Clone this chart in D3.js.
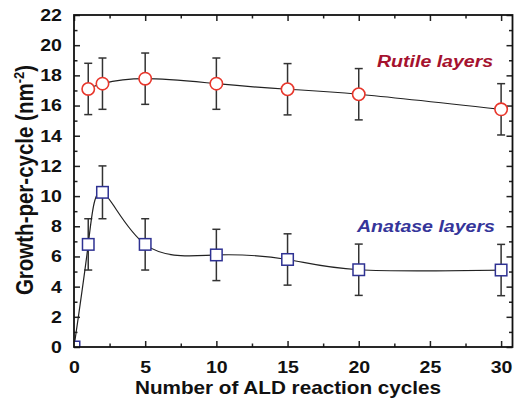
<!DOCTYPE html>
<html>
<head>
<meta charset="utf-8">
<script src="https://cdn.jsdelivr.net/npm/d3@7"></script>
<style>
  html, body { margin: 0; padding: 0; background: #fff; }
  svg { display: block; font-family: "Liberation Sans", Arial, Helvetica, sans-serif; }
</style>
</head>
<body>
<div id="chart"></div>
<script>
// Data
const rutileCycles = [1, 2, 5, 10, 15, 20, 30];
const rutileGpc = [17.1, 17.45, 17.78, 17.45, 17.08, 16.75, 15.75];
const rutileErr = [1.7, 1.7, 1.7, 1.7, 1.7, 1.7, 1.7];

const anataseCycles = [0, 1, 2, 5, 10, 15, 20, 30];
const anataseGpc = [0, 6.8, 10.25, 6.8, 6.1, 5.8, 5.12, 5.1];
const anataseErr = [0, 1.7, 1.75, 1.7, 1.7, 1.7, 1.7, 1.7];

const xMajorTicks = [0, 5, 10, 15, 20, 25, 30];
const xMinorTicks = [2.5, 7.5, 12.5, 17.5, 22.5, 27.5];
const yMajorTicks = [0, 2, 4, 6, 8, 10, 12, 14, 16, 18, 20, 22];
const yMinorTicks = [1, 3, 5, 7, 9, 11, 13, 15, 17, 19, 21];

const width = 514, height = 399;
const stretch = 1.15; // reference glyphs are a bit wide

const svg = d3.select('#chart').append('svg')
  .attr('width', width)
  .attr('height', height);

svg.append('rect').attr('width', width).attr('height', height).attr('fill', '#fff');

const x = d3.scaleLinear().domain([0, 30.8]).range([74, 512.5]);
const y = d3.scaleLinear().domain([0, 22]).range([347, 15]);

const rutile = rutileCycles.map((c, i) => ({ c, v: rutileGpc[i], e: rutileErr[i] }));
const anatase = anataseCycles.map((c, i) => ({ c, v: anataseGpc[i], e: anataseErr[i] }));

// clip marks to the plot frame (origin square is half hidden in the reference)
svg.append('clipPath').attr('id', 'plot-clip')
  .append('rect')
  .attr('x', x(0)).attr('y', y(22))
  .attr('width', x(30.8) - x(0)).attr('height', y(0) - y(22));

// axes: ticks point inward on all four sides
const majorLen = 6, minorLen = 3.5;

const bottom = svg.append('g')
  .attr('transform', `translate(0,${y(0)})`)
  .call(d3.axisBottom(x).tickValues(xMajorTicks).tickSizeInner(-majorLen).tickSizeOuter(0).tickPadding(14));
svg.append('g')
  .attr('transform', `translate(0,${y(0)})`)
  .call(d3.axisBottom(x).tickValues(xMinorTicks).tickSizeInner(-minorLen).tickSizeOuter(0).tickFormat(''));
svg.append('g')
  .attr('transform', `translate(0,${y(22)})`)
  .call(d3.axisTop(x).tickValues(xMajorTicks).tickSizeInner(-majorLen).tickSizeOuter(0).tickFormat(''));
svg.append('g')
  .attr('transform', `translate(0,${y(22)})`)
  .call(d3.axisTop(x).tickValues(xMinorTicks).tickSizeInner(-minorLen).tickSizeOuter(0).tickFormat(''));

const left = svg.append('g')
  .attr('transform', `translate(${x(0)},0)`)
  .call(d3.axisLeft(y).tickValues(yMajorTicks).tickSizeInner(-majorLen).tickSizeOuter(0).tickPadding(10.5));
svg.append('g')
  .attr('transform', `translate(${x(0)},0)`)
  .call(d3.axisLeft(y).tickValues(yMinorTicks).tickSizeInner(-minorLen).tickSizeOuter(0).tickFormat(''));
svg.append('g')
  .attr('transform', `translate(${x(30.8)},0)`)
  .call(d3.axisRight(y).tickValues(yMajorTicks).tickSizeInner(-majorLen).tickSizeOuter(0).tickFormat(''));
svg.append('g')
  .attr('transform', `translate(${x(30.8)},0)`)
  .call(d3.axisRight(y).tickValues(yMinorTicks).tickSizeInner(-minorLen).tickSizeOuter(0).tickFormat(''));

svg.selectAll('.domain').remove();
svg.selectAll('.tick line').attr('stroke', '#222').attr('stroke-width', 1.5);

[bottom, left].forEach(g => g.selectAll('.tick text')
  .attr('font-size', 17)
  .attr('font-weight', 'bold')
  .attr('fill', '#111')
  .attr('transform', `scale(${stretch},1)`));

// error bars
const capW = 4;
function errorBars(data) {
  const g = svg.append('g').attr('stroke', '#333').attr('stroke-width', 1.5);
  const bars = data.filter(d => d.e > 0);
  g.selectAll('line.v').data(bars).enter().append('line')
    .attr('x1', d => x(d.c)).attr('x2', d => x(d.c))
    .attr('y1', d => y(d.v - d.e)).attr('y2', d => y(d.v + d.e));
  g.selectAll('line.t').data(bars).enter().append('line')
    .attr('x1', d => x(d.c) - capW).attr('x2', d => x(d.c) + capW)
    .attr('y1', d => y(d.v + d.e)).attr('y2', d => y(d.v + d.e));
  g.selectAll('line.b').data(bars).enter().append('line')
    .attr('x1', d => x(d.c) - capW).attr('x2', d => x(d.c) + capW)
    .attr('y1', d => y(d.v - d.e)).attr('y2', d => y(d.v - d.e));
}
errorBars(rutile);
errorBars(anatase);

// smooth connecting curves
const line = d3.line()
  .x(d => x(d.c))
  .y(d => y(d.v))
  .curve(d3.curveNatural);

const marks = svg.append('g').attr('clip-path', 'url(#plot-clip)');

marks.append('path').datum(rutile)
  .attr('d', line).attr('fill', 'none').attr('stroke', '#222').attr('stroke-width', 1.2);
marks.append('path').datum(anatase)
  .attr('d', line).attr('fill', 'none').attr('stroke', '#222').attr('stroke-width', 1.2);

// markers
marks.append('g').selectAll('circle').data(rutile).enter().append('circle')
  .attr('cx', d => x(d.c)).attr('cy', d => y(d.v)).attr('r', 6.2)
  .attr('fill', '#fff').attr('stroke', '#e8372c').attr('stroke-width', 1.6);

const sq = 11.5;
marks.append('g').selectAll('rect').data(anatase).enter().append('rect')
  .attr('x', d => x(d.c) - sq / 2).attr('y', d => y(d.v) - sq / 2)
  .attr('width', sq).attr('height', sq)
  .attr('fill', '#fff').attr('stroke', '#2e3192').attr('stroke-width', 1.5);

// frame on top
svg.append('rect')
  .attr('x', x(0)).attr('y', y(22))
  .attr('width', x(30.8) - x(0)).attr('height', y(0) - y(22))
  .attr('fill', 'none').attr('stroke', '#111').attr('stroke-width', 1.8);

// series labels
svg.append('text')
  .attr('transform', `translate(377,67) scale(${stretch},1)`)
  .attr('font-size', 17).attr('font-weight', 'bold').attr('font-style', 'italic')
  .attr('fill', '#a5122e')
  .text('Rutile layers');

svg.append('text')
  .attr('transform', `translate(357,232) scale(${stretch},1)`)
  .attr('font-size', 17).attr('font-weight', 'bold').attr('font-style', 'italic')
  .attr('fill', '#35359a')
  .text('Anatase layers');

// axis titles
svg.append('text')
  .attr('transform', `translate(288,394) scale(${stretch},1)`)
  .attr('text-anchor', 'middle')
  .attr('font-size', 18).attr('font-weight', 'bold').attr('fill', '#111')
  .text('Number of ALD reaction cycles');

const yTitle = svg.append('text')
  .attr('transform', `translate(33,180) scale(${stretch},1) rotate(-90)`)
  .attr('text-anchor', 'middle')
  .attr('font-size', 20.5).attr('font-weight', 'bold').attr('fill', '#111');
yTitle.append('tspan').text('Growth-per-cycle (nm');
yTitle.append('tspan').attr('font-size', 13).attr('dy', -8).text('-2');
yTitle.append('tspan').attr('dy', 8).text(')');
</script>
</body>
</html>
